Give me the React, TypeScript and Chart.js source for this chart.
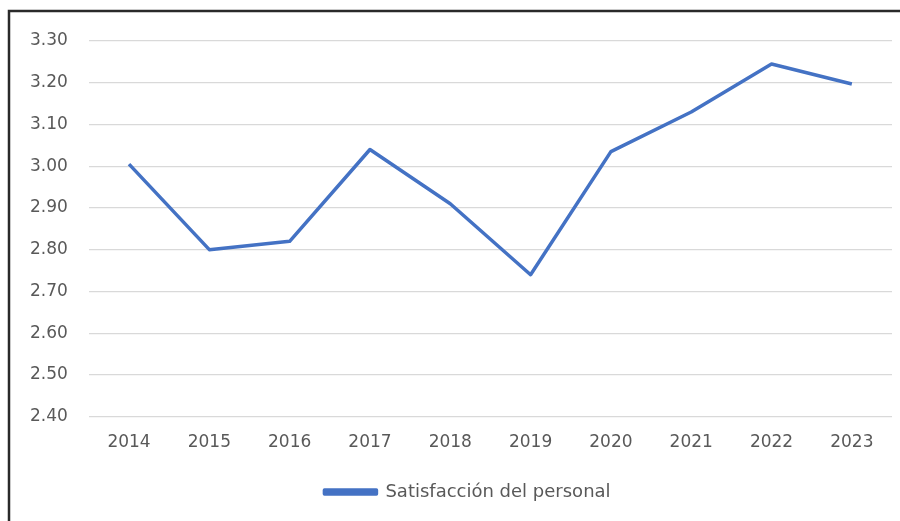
import React, { useEffect, useRef } from "react";
import { Chart, registerables } from "chart.js";

Chart.register(...registerables);

const years = ["2014", "2015", "2016", "2017", "2018", "2019", "2020", "2021", "2022", "2023"];
const satisfaccion = [3.005, 2.8, 2.82, 3.04, 2.91, 2.74, 3.035, 3.13, 3.245, 3.197];
const seriesName = "Satisfacción del personal";
const yMin = 2.4;
const yMax = 3.3;
const yStep = 0.1;

const frame = {
  id: "frame",
  afterLayout(chart: any) {
    if (chart.legend) chart.legend.left += 34;
  },
  afterDraw(chart: any) {
    const ctx = chart.ctx;
    ctx.save();
    ctx.strokeStyle = "#2a2a2a";
    ctx.lineWidth = 2.5;
    ctx.beginPath();
    ctx.moveTo(9, chart.height);
    ctx.lineTo(9, 11);
    ctx.lineTo(chart.width, 11);
    ctx.stroke();
    ctx.restore();
  },
};

export default function App() {
  const ref = useRef<HTMLCanvasElement | null>(null);
  useEffect(() => {
    if (!ref.current) return;
    const chart = new Chart(ref.current, {
      type: "line",
      data: {
        labels: years,
        datasets: [
          {
            label: seriesName,
            data: satisfaccion,
            borderColor: "#4472C4",
            backgroundColor: "#4472C4",
            borderWidth: 3.5,
            pointRadius: 0,
            tension: 0,
            borderJoinStyle: "round",
          },
        ],
      },
      options: {
        responsive: false,
        animation: false,
        layout: { padding: { left: 9, right: 8, top: 41, bottom: 10 } },
        scales: {
          x: {
            offset: true,
            grid: { display: false, drawTicks: false },
            border: { display: false },
            ticks: {
              color: "#595959",
              font: { family: "DejaVu Sans", size: 17 },
              padding: 16,
              maxRotation: 0,
            },
          },
          y: {
            min: yMin,
            max: yMax,
            grid: { color: "#d9d9d9", lineWidth: 1.2, drawTicks: false },
            border: { display: false },
            ticks: {
              stepSize: yStep,
              color: "#595959",
              font: { family: "DejaVu Sans", size: 17 },
              padding: 21,
              callback: (v: any) => Number(v).toFixed(2),
            },
          },
        },
        plugins: {
          legend: {
            position: "bottom",
            labels: {
              color: "#595959",
              font: { family: "DejaVu Sans", size: 18 },
              boxWidth: 52,
              boxHeight: 4,
              padding: 14,
            },
          },
          tooltip: { enabled: false },
        },
      },
      plugins: [frame],
    });
    return () => chart.destroy();
  }, []);
  return (
    <div style={{ position: "absolute", left: 0, top: 0, width: 900, height: 521, background: "#fff" }}>
      <canvas ref={ref} width={900} height={521} style={{ display: "block" }} />
    </div>
  );
}
